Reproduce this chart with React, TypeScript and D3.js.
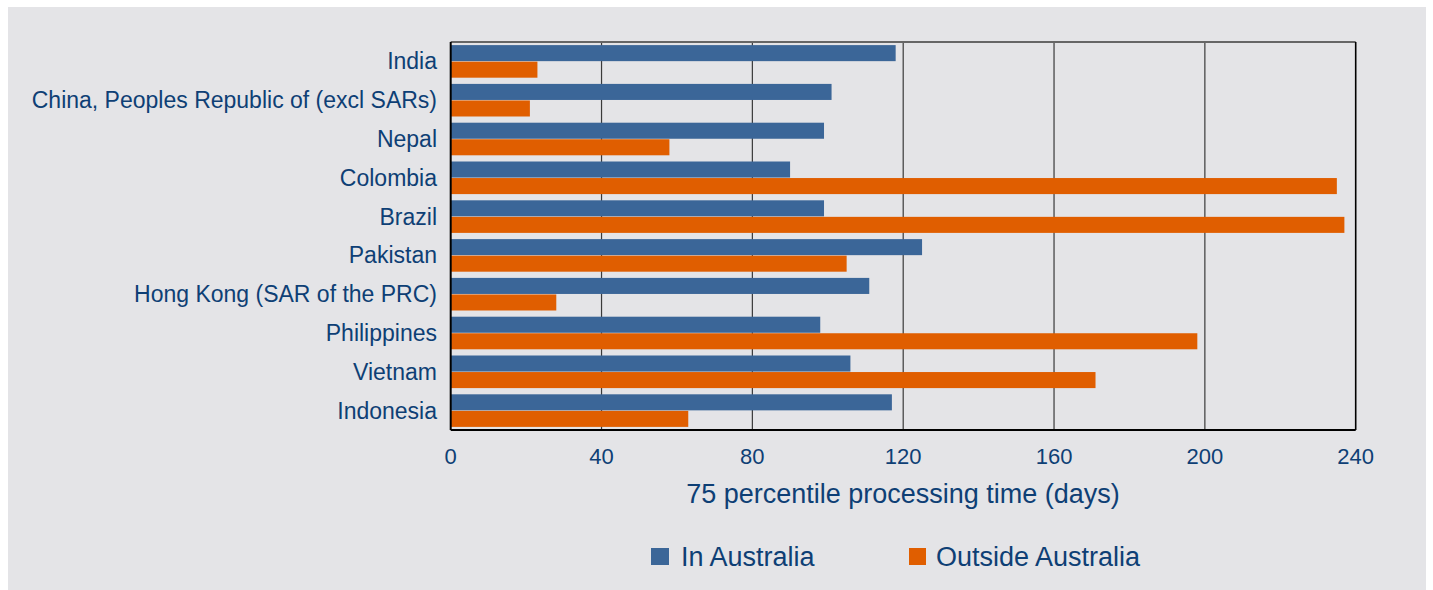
import React from "react";
import * as d3 from "d3";

const categories = [
  "India",
  "China, Peoples Republic of (excl SARs)",
  "Nepal",
  "Colombia",
  "Brazil",
  "Pakistan",
  "Hong Kong (SAR of the PRC)",
  "Philippines",
  "Vietnam",
  "Indonesia",
];
const inAustralia = [118, 101, 99, 90, 99, 125, 111, 98, 106, 117];
const outsideAustralia = [23, 21, 58, 235, 237, 105, 28, 198, 171, 63];
const xTicks = [0, 40, 80, 120, 160, 200, 240];
const seriesNames = ["In Australia", "Outside Australia"];

const W = 1433;
const H = 590;
const BLUE = "#3B6698";
const ORANGE = "#E05E00";
const TEXT = "#0E3F75";
const FONT = "'Liberation Sans', Arial, sans-serif";

export default function App() {
  const left = 450.7;
  const right = 1355.7;
  const top = 42;
  const bottom = 430;
  const x = d3.scaleLinear().domain([0, 240]).range([left, right]);
  const y = d3.scaleBand<string>().domain(categories).range([top, bottom]).paddingInner(0.16).paddingOuter(0.08);
  const sub = d3.scaleBand<string>().domain(seriesNames).range([0, y.bandwidth()]).paddingInner(0.03);

  return (
    <svg width={W} height={H} style={{ position: "absolute", left: 0, top: 0, display: "block" }} fontFamily={FONT}>
      <rect x={8} y={7} width={1418} height={H - 7} fill="#E4E4E7" />
      {xTicks.slice(1, -1).map((t) => (
        <line key={t} x1={x(t)} x2={x(t)} y1={top} y2={bottom} stroke="#3a3a3a" strokeWidth={1.2} />
      ))}
      {categories.map((c, i) => (
        <g key={c}>
          <rect x={x(0)} y={(y(c) as number) + (sub(seriesNames[0]) as number)} width={x(inAustralia[i]) - x(0)} height={sub.bandwidth()} fill={BLUE} />
          <rect x={x(0)} y={(y(c) as number) + (sub(seriesNames[1]) as number)} width={x(outsideAustralia[i]) - x(0)} height={sub.bandwidth()} fill={ORANGE} />
          <text x={437} y={(y(c) as number) + y.bandwidth() / 2} dy="0.35em" textAnchor="end" fontSize={23} fill={TEXT}>
            {c}
          </text>
        </g>
      ))}
      <line x1={left} x2={right} y1={top} y2={top} stroke="#666" strokeWidth={1.8} />
      <line x1={left} x2={left} y1={top} y2={bottom} stroke="#000" strokeWidth={2} />
      <line x1={right} x2={right} y1={top} y2={bottom} stroke="#000" strokeWidth={1.6} />
      <line x1={left} x2={right} y1={bottom} y2={bottom} stroke="#000" strokeWidth={1.8} />
      {xTicks.map((t) => (
        <text key={t} x={x(t)} y={456} dy="0.35em" textAnchor="middle" fontSize={22} fill={TEXT}>
          {t}
        </text>
      ))}
      <text x={903} y={494} dy="0.35em" textAnchor="middle" fontSize={27} fill={TEXT}>
        75 percentile processing time (days)
      </text>
      <rect x={651} y={548} width={18} height={17} fill={BLUE} />
      <text x={681} y={557} dy="0.35em" fontSize={27} fill={TEXT}>
        {seriesNames[0]}
      </text>
      <rect x={909} y={548} width={17} height={17} fill={ORANGE} />
      <text x={936} y={557} dy="0.35em" fontSize={27} fill={TEXT}>
        {seriesNames[1]}
      </text>
    </svg>
  );
}
